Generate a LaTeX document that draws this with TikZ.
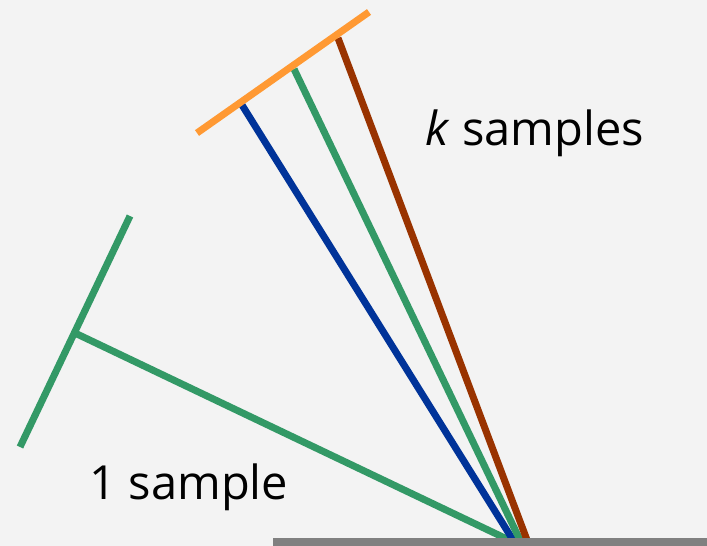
\documentclass[tikz,border=0pt]{standalone}
\usepackage{fontspec}
\setmainfont{Open Sans}
\usepackage{xcolor}
\definecolor{bggray}{HTML}{F3F3F3}
\definecolor{bargray}{HTML}{808080}
\definecolor{raygreen}{HTML}{339966}
\definecolor{rayblue}{HTML}{003399}
\definecolor{raybrown}{HTML}{993300}
\definecolor{rayorange}{HTML}{FF9933}

\begin{document}
\begin{tikzpicture}[x=1pt, y=-1pt, ray/.style={line width=7pt}, lbl/.style={font=\fontsize{47}{56}\selectfont, inner sep=0pt}]
    % Background
    \fill[bggray] (0,0) rectangle (707,546);
    \useasboundingbox (0,0) rectangle (707,546);

    % Points
    \coordinate (hit) at (517,540);
    \coordinate (tA) at (20,447);
    \coordinate (tB) at (130,216);
    \coordinate (tJ) at (77,334);
    \coordinate (oA) at (197,133);
    \coordinate (oB) at (369,12);
    \coordinate (kBlue) at (242,105);
    \coordinate (kGreen) at (294,69);
    \coordinate (kBrown) at (338,38);

    % 1 sample
    \draw[raygreen, ray] (tA) -- (tB);
    \draw[raygreen, ray] (tJ) -- ([xshift=-8pt]hit);

    % k samples
    \draw[rayblue, ray] (kBlue) -- ([xshift=-4pt]hit);
    \draw[raygreen, ray] (kGreen) -- ([xshift=3pt]hit);
    \draw[raybrown, ray] (kBrown) -- ([xshift=10pt]hit);
    \draw[rayorange, ray] (oA) -- (oB);

    % Surface
    \fill[bargray] (273,538) rectangle (707,546);

    \node[lbl] (one) at (189,487) {1 sample};
    \node[lbl] (many) at (535,133) {\textit{k} samples};
\end{tikzpicture}
\end{document}
